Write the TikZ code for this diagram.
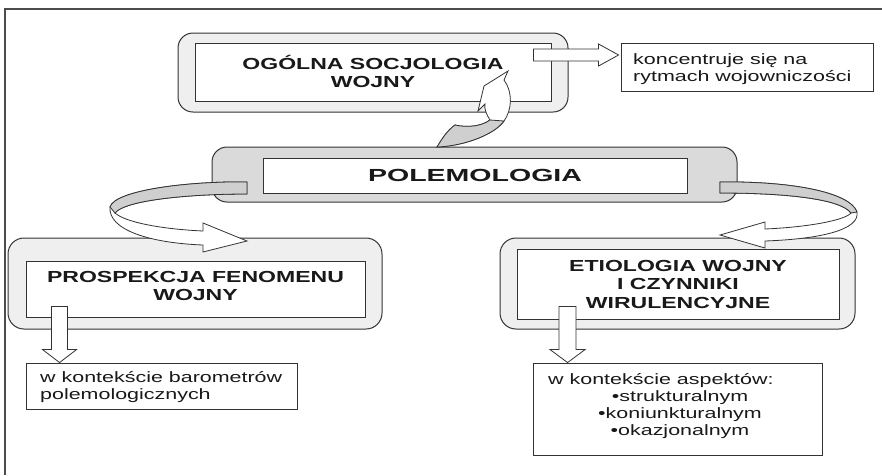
\documentclass[tikz,border=0pt]{standalone}
\usepackage{fontspec}
\setmainfont{Liberation Sans}
\usetikzlibrary{calc}
\definecolor{lightbox}{HTML}{EFEFEF}
\definecolor{polbox}{HTML}{DADADA}
\definecolor{bandgray}{HTML}{CFCFCF}
\definecolor{linecol}{HTML}{333333}
\newcommand{\hs}[2]{\scalebox{#1}[1]{#2}}
\tikzset{
 outerbox/.style={draw=linecol, line width=1pt, rounded corners=15pt, fill=lightbox, inner sep=0pt},
 innerbox/.style={draw=linecol, line width=0.9pt, fill=white, inner sep=0pt},
 plainbox/.style={draw=linecol, line width=0.9pt, fill=white, inner sep=0pt},
 titletext/.style={font=\bfseries\fontsize{16}{18.5}\selectfont, inner sep=0pt, text=black!90},
 bigtext/.style={font=\bfseries\fontsize{17.5}{20}\selectfont, inner sep=0pt, text=black!90},
 bodytext/.style={font=\fontsize{15}{17}\selectfont, inner sep=0pt, text=black!90},
 blockarrow/.style={draw=linecol, line width=0.8pt, fill=white, line join=miter},
 band/.style={draw=linecol, line width=0.8pt, fill=bandgray},
}
\begin{document}
\begin{tikzpicture}[x=1pt,y=-1pt]
\useasboundingbox (0,0) rectangle (882,475);
\fill[white] (0,0) rectangle (882,475);
\draw[line width=1.2pt, draw=black!70] (882,9) -- (5,9) -- (5,475);

% boxes
\node[outerbox, minimum width=390pt, minimum height=79pt] (ogolO) at (373,72.5) {};
\node[innerbox, minimum width=356pt, minimum height=58pt] (ogol) at (373,72) {};
\node[outerbox, fill=polbox, minimum width=525pt, minimum height=55pt] (polO) at (474.5,174.5) {};
\node[innerbox, minimum width=424pt, minimum height=35pt] (pol) at (475,175.5) {};
\node[outerbox, rounded corners=16pt, minimum width=374pt, minimum height=91pt] (prosO) at (195,283.5) {};
\node[innerbox, minimum width=339pt, minimum height=56pt] (pros) at (195.5,289) {};
\node[outerbox, rounded corners=16pt, minimum width=355pt, minimum height=91pt] (etioO) at (677.5,283.5) {};
\node[innerbox, minimum width=322pt, minimum height=70pt] (etio) at (678,284) {};
\node[plainbox, minimum width=252pt, minimum height=48pt] (konc) at (747,67) {};
\node[plainbox, minimum width=271pt, minimum height=46pt] (baro) at (161.5,386) {};
\node[plainbox, minimum width=289pt, minimum height=92pt] (asp) at (677.5,409) {};

% texts
\node[titletext] (ogolT) at (373,74) {\hs{1.44}{\begin{tabular}{@{}c@{}}OGÓLNA SOCJOLOGIA\\WOJNY\end{tabular}}};
\node[bigtext] (polT) at (475,175) {\hs{1.63}{POLEMOLOGIA}};
\node[titletext] (prosT) at (195.5,288) {\hs{1.44}{\begin{tabular}{@{}c@{}}PROSPEKCJA FENOMENU\\WOJNY\end{tabular}}};
\node[titletext] (etioT) at (678,286) {\hs{1.44}{\begin{tabular}{@{}c@{}}ETIOLOGIA WOJNY\\I CZYNNIKI\\WIRULENCYJNE\end{tabular}}};
\node[bodytext, anchor=west] (koncT) at (633,70) {\hs{1.43}{\begin{tabular}{@{}l@{}}koncentruje się na\\rytmach wojowniczości\end{tabular}}};
\node[bodytext, anchor=west] (baroT) at (40,388) {\hs{1.43}{\begin{tabular}{@{}l@{}}w kontekście barometrów\\polemologicznych\end{tabular}}};
\node[bodytext, anchor=west] (aspT) at (548,381) {\hs{1.43}{\begin{tabular}{@{}l@{}}w kontekście aspektów:\end{tabular}}};
\node[bodytext] (aspL) at (680,415) {\hs{1.43}{\begin{tabular}{@{}c@{}}•strukturalnym\\•koniunkturalnym\\•okazjonalnym\end{tabular}}};

% straight block arrows
\coordinate (rTip) at ($(konc.west)+(-2,-12)$);
\draw[blockarrow, shift={(rTip)}] (0,0) -- (-20,-11) -- (-20,-6) -- (-85,-6) -- (-85,6) -- (-20,6) -- (-20,11) -- cycle;
\coordinate (pTip) at ($(baro.north west)+(34,0)$);
\draw[blockarrow, shift={(pTip)}] (0,0) -- (-17,-13) -- (-8,-13) -- (-8,-56) -- (8,-56) -- (8,-13) -- (17,-13) -- cycle;
\coordinate (eTip) at ($(asp.north west)+(35,0)$);
\draw[blockarrow, shift={(eTip)}] (0,0) -- (-17.5,-13) -- (-8.5,-13) -- (-8.5,-56) -- (8.5,-56) -- (8.5,-13) -- (17.5,-13) -- cycle;

% left curved arrow
\draw[blockarrow] (247,182) .. controls (190,181) and (115,190) .. (110,207)
  .. controls (108,230) and (150,243) .. (203,245)
  -- (203,252) -- (247,241) -- (203,223) -- (203,231)
  .. controls (160,229) and (125,222) .. (115,213)
  .. controls (125,200) and (190,194) .. (247,194) -- cycle;
\draw[band] (247,182) .. controls (190,181) and (115,190) .. (110,207)
  -- (115,213) .. controls (125,200) and (190,194) .. (247,194) -- cycle;

% right curved arrow
\draw[blockarrow] (720,182) .. controls (790,181) and (850,192) .. (857,212)
  .. controls (860,230) and (820,239) .. (765,241)
  -- (765,248) -- (720,235) -- (765,222) -- (765,229)
  .. controls (810,227) and (845,220) .. (851,213)
  .. controls (840,198) and (780,193) .. (720,193) -- cycle;
\draw[band] (720,182) .. controls (790,181) and (850,192) .. (857,212)
  -- (851,213) .. controls (840,198) and (780,193) .. (720,193) -- cycle;

% upper curved arrow
\draw[blockarrow] (437,147) .. controls (443,137) and (448,130) .. (455,125)
  .. controls (468,128) and (482,126) .. (490,120)
  .. controls (486,114) and (484,108) .. (485,104)
  -- (478,111) -- (484,86) -- (508,71) -- (504,80)
  .. controls (513,92) and (512,110) .. (504,121)
  .. controls (495,134) and (465,146) .. (437,147) -- cycle;
\draw[band] (437,147) .. controls (443,137) and (448,130) .. (455,125)
  .. controls (468,128) and (482,126) .. (490,120)
  -- (504,121) .. controls (495,134) and (465,146) .. (437,147) -- cycle;
\end{tikzpicture}
\end{document}
